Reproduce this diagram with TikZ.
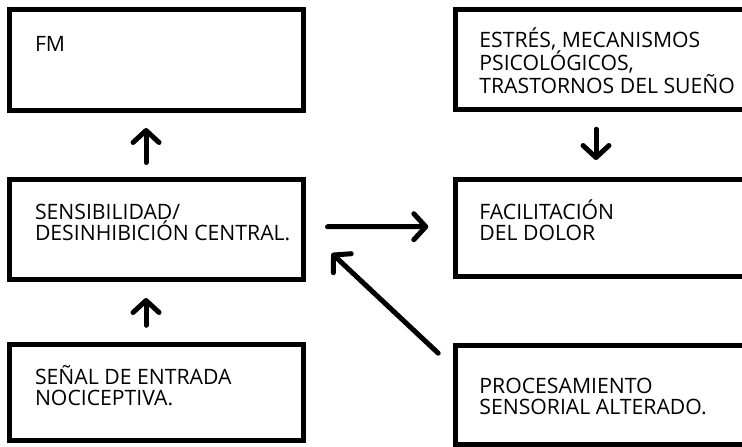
\documentclass[tikz,border=0pt]{standalone}
\usepackage{fontspec}
\setmainfont{Open Sans}
\usetikzlibrary{
  arrows.meta % for the open arrow heads
}

\begin{document}
\begin{tikzpicture}[
  x=1pt, y=1pt,
  box/.style={
     rectangle,
     draw,
     line width=5pt,
     inner sep=0pt
  },
  boxtext/.style={
     anchor=base west,
     align=left,
     inner sep=0pt,
     font=\fontsize{21.2pt}{21pt}\selectfont
  },
  arr/.style={
     line width=5pt,
     line cap=round,
     -{Straight Barb[length=12pt,width=26pt,line cap=round,line join=round]}
  }
]
   \useasboundingbox (0,0) rectangle (742,447);
   \clip (0,0) rectangle (742,447);

   % The boxes on the left
   \node[box,minimum width=293.7pt,minimum height=100.4pt] (fm) at (156.65,387) {};
   \node[box,minimum width=293.7pt,minimum height=100.3pt] (sens) at (156.65,217.65) {};
   \node[box,minimum width=293.7pt,minimum height=95.5pt] (senal) at (156.65,54.25) {};
   % The boxes on the right, cut off by the page edge
   \node[box,minimum width=324.8pt,minimum height=100pt] (estres) at (617.6,387.5) {};
   \node[box,minimum width=324.8pt,minimum height=97.6pt] (facil) at (617.6,219) {};
   \node[box,minimum width=324.8pt,minimum height=98.8pt] (proc) at (617.6,51.9) {};

   % The texts (anchored at the baseline of their last line)
   \node[boxtext] (fm-text) at ([shift={(27.5,-44.4)}]fm.north west) {FM};
   \node[boxtext] (sens-text) at ([shift={(27.5,-64)}]sens.north west) {SENSIBILIDAD/\\DESINHIBICIÓN CENTRAL.};
   \node[boxtext] (senal-text) at ([shift={(27.5,-63.3)}]senal.north west) {SEÑAL DE ENTRADA\\NOCICEPTIVA.};
   \node[boxtext] (estres-text) at ([shift={(26.5,-86.4)}]estres.north west) {ESTRÉS, MECANISMOS\\PSICOLÓGICOS,\\TRASTORNOS DEL SUEÑO};
   \node[boxtext] (facil-text) at ([shift={(26.5,-64.3)}]facil.north west) {FACILITACIÓN\\DEL DOLOR};
   \node[boxtext] (proc-text) at ([shift={(26.5,-71)}]proc.north west) {PROCESAMIENTO\\SENSORIAL ALTERADO.};

   % The connecting arrows
   \draw[arr,shorten <=14.2pt,shorten >=15.3pt] ([xshift=-10.6pt]sens.north) -- ([xshift=-10.6pt]fm.south);
   \draw[arr,shorten <=17.2pt,shorten >=16pt] ([xshift=-10.6pt]senal.north) -- ([xshift=-10.6pt]sens.south);
   \draw[arr,shorten <=17.2pt,shorten >=16.7pt] ([xshift=-21.6pt]estres.south) -- ([xshift=-21.6pt]facil.south |- facil.north);
   \draw[arr,shorten <=21.5pt,shorten >=24.4pt] ([yshift=2.6pt]sens.east) -- ([yshift=1.3pt]facil.west);
   \draw[arr] ([shift={(-14.5,-10)}]proc.north west) -- ([shift={(25.7,28.7)}]sens.south east);
\end{tikzpicture}
\end{document}
